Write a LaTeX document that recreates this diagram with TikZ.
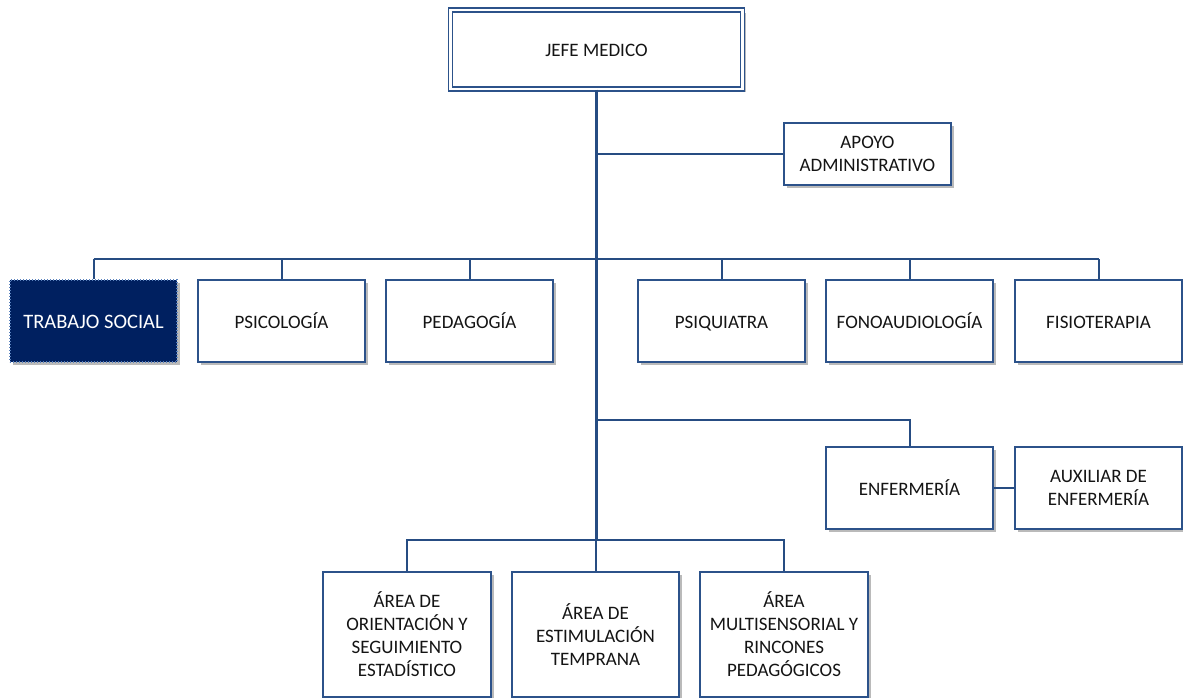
\documentclass[tikz,border=0pt]{standalone}
\usepackage{fontspec}
\setmainfont{Carlito}
\usetikzlibrary{shadows}
\definecolor{lineblue}{RGB}{38,76,130}
\definecolor{boxblue}{RGB}{44,82,138}
\definecolor{navy}{RGB}{0,32,96}
\definecolor{dotblue}{RGB}{90,130,190}
\definecolor{txt}{RGB}{20,20,20}
\tikzset{
  orgbox/.style={draw=boxblue, line width=1.5pt, fill=white, minimum width=167pt,
    minimum height=82pt, inner sep=2pt, align=center, text=txt,
    font=\fontsize{19}{23}\selectfont,
    drop shadow={shadow xshift=3pt, shadow yshift=-3pt, opacity=0.45, fill=black!60}},
  oneline/.style={text height=16pt, text depth=2pt},
  darkbox/.style={orgbox, fill=navy, draw=dotblue, dash pattern=on 1pt off 2pt,
    text=white, font=\fontsize{20.5}{24}\selectfont},
  topbox/.style={orgbox, double=white, double distance=2.6pt, line width=1.3pt,
    minimum width=292pt, minimum height=79pt},
  conn/.style={draw=lineblue, line width=2pt},
  trunk/.style={draw=lineblue, line width=3pt}
}
\begin{document}
\begin{tikzpicture}[x=1pt,y=-1pt]
\path[use as bounding box] (0,0) rectangle (1183,698);
% nodes
\node[topbox, oneline] (jefe) at (596.5,49.5) {JEFE MEDICO};
\node[orgbox, minimum height=62pt] (apoyo) at (867.5,154) {APOYO\\ADMINISTRATIVO};
\node[darkbox, oneline] (ts) at (93.5,321) {TRABAJO SOCIAL};
\node[orgbox, oneline] (psic) at (281.5,321) {PSICOLOGÍA};
\node[orgbox, oneline] (ped) at (469.5,321) {PEDAGOGÍA};
\node[orgbox, oneline] (psiq) at (721.5,321) {PSIQUIATRA};
\node[orgbox, oneline] (fono) at (909.5,321) {FONOAUDIOLOGÍA};
\node[orgbox, oneline] (fis) at (1098.5,321) {FISIOTERAPIA};
\node[orgbox, oneline] (enf) at (909.5,488) {ENFERMERÍA};
\node[orgbox] (aux) at (1098.5,488) {AUXILIAR DE\\ENFERMERÍA};
\node[orgbox, minimum width=168pt, minimum height=125pt] (a1) at (407,634.5)
  {ÁREA DE\\ORIENTACIÓN Y\\SEGUIMIENTO\\ESTADÍSTICO};
\node[orgbox, minimum height=125pt] (a2) at (595.5,634.5)
  {ÁREA DE\\ESTIMULACIÓN\\TEMPRANA};
\node[orgbox, minimum width=168pt, minimum height=125pt] (a3) at (784,634.5)
  {ÁREA\\MULTISENSORIAL Y\\RINCONES\\PEDAGÓGICOS};
% junction coordinates
\coordinate (bus) at (596,259);
\coordinate (ebr) at (596,420);
\coordinate (bb) at (596,540);
% connectors
\draw[conn] (jefe.south |- apoyo.west) -- (apoyo.west);
\draw[conn] (ts.north |- bus) -- (fis.north |- bus);
\foreach \n in {ts,psic,ped,psiq,fono,fis} \draw[conn] (\n.north) -- (\n.north |- bus);
\draw[conn] (ebr) -| (enf.north);
\draw[conn] (enf.east) -- (aux.west);
\draw[conn] (a1.north) |- (bb) -| (a3.north);
\draw[conn] (a2.north) -- (a2.north |- bb);
\draw[trunk] (jefe.south) -- (jefe.south |- bb);
\end{tikzpicture}
\end{document}
